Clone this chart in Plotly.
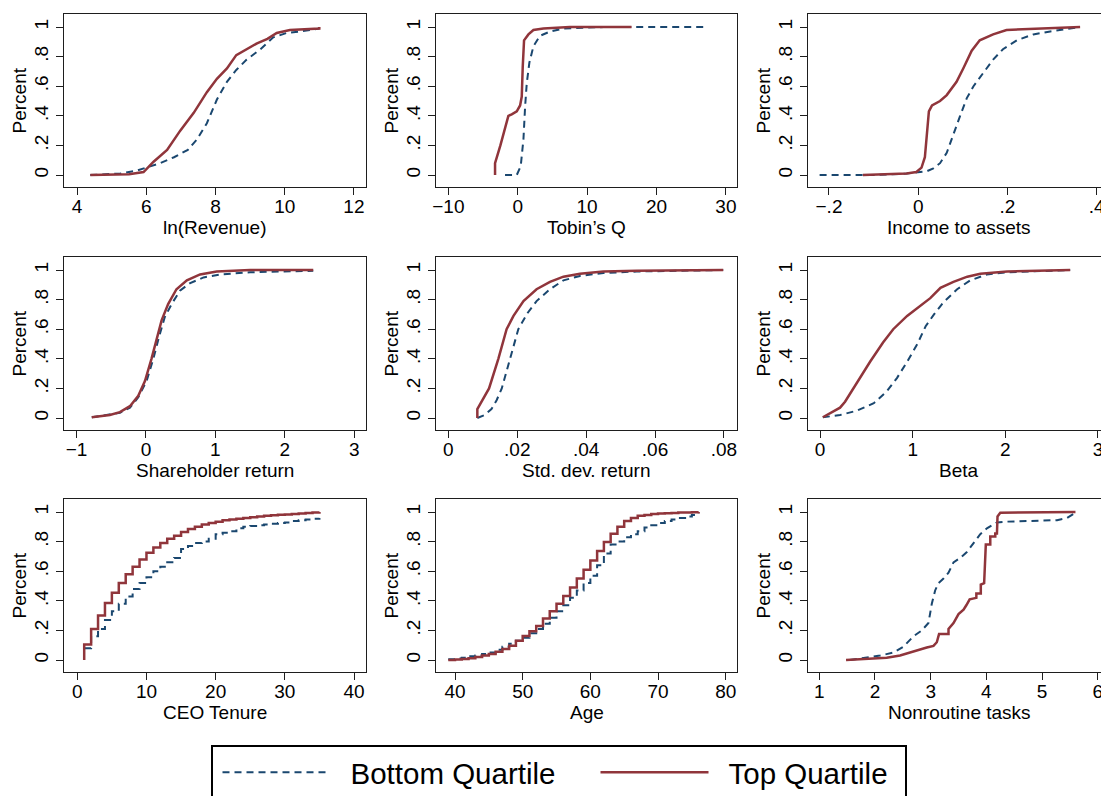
import plotly.graph_objects as go

# ---------------- data ----------------
# ln(Revenue)
rev_bot_x = [4.38, 5.25, 5.73, 6.0, 6.4, 6.8, 7.2, 7.46, 7.75, 8.04, 8.33, 8.6, 8.9, 9.3, 9.67, 10.06, 10.44, 11.0]
rev_bot_y = [0, 0.01, 0.03, 0.05, 0.08, 0.12, 0.17, 0.24, 0.35, 0.51, 0.63, 0.71, 0.78, 0.85, 0.93, 0.96, 0.97, 0.99]
rev_top_x = [4.38, 5.0, 5.5, 5.92, 6.21, 6.6, 6.98, 7.37, 7.75, 8.04, 8.33, 8.6, 8.9, 9.2, 9.5, 9.77, 10.15, 11.0, 11.0]
rev_top_y = [0, 0.0, 0.005, 0.02, 0.09, 0.17, 0.30, 0.42, 0.56, 0.65, 0.72, 0.81, 0.85, 0.89, 0.92, 0.96, 0.98, 0.99, 1.0]

# Tobin's Q
tq_bot_x = [-1.83, -0.14, 0.43, 0.82, 1.06, 1.3, 1.68, 2.26, 3.2, 4.66, 6.6, 12.4, 27.0]
tq_bot_y = [0, 0, 0.06, 0.24, 0.46, 0.62, 0.76, 0.87, 0.94, 0.97, 0.99, 1.0, 1.0]
tq_top_x = [-3.27, -3.27, -2.5, -1.8, -1.35, -0.87, -0.14, 0.34, 0.58, 0.72, 0.91, 1.54, 2.26, 3.7, 7.5, 16.4]
tq_top_y = [0, 0.08, 0.2, 0.33, 0.40, 0.41, 0.43, 0.47, 0.53, 0.73, 0.91, 0.95, 0.98, 0.99, 1.0, 1.0]

# Income to assets
ia_bot_x = [-0.221, -0.101, -0.026, 0.0, 0.019, 0.034, 0.049, 0.064, 0.079, 0.094, 0.109, 0.124, 0.146, 0.168, 0.19, 0.221, 0.258, 0.296, 0.363]
ia_bot_y = [0, 0, 0.01, 0.02, 0.025, 0.045, 0.08, 0.15, 0.28, 0.40, 0.52, 0.60, 0.69, 0.78, 0.85, 0.91, 0.95, 0.97, 1.0]
ia_top_x = [-0.124, -0.064, -0.026, -0.004, 0.0075, 0.015, 0.02, 0.024, 0.031, 0.049, 0.064, 0.086, 0.101, 0.12, 0.138, 0.168, 0.198, 0.273, 0.363]
ia_top_y = [0, 0.005, 0.01, 0.02, 0.05, 0.12, 0.30, 0.43, 0.47, 0.50, 0.54, 0.63, 0.72, 0.84, 0.91, 0.95, 0.98, 0.99, 1.0]

# Shareholder return
sr_bot_x = [-0.78, -0.375, -0.23, -0.11, 0.01, 0.106, 0.19, 0.27, 0.37, 0.49, 0.63, 0.83, 1.07, 1.5, 1.98, 2.41]
sr_bot_y = [0.005, 0.035, 0.07, 0.14, 0.25, 0.40, 0.55, 0.68, 0.77, 0.86, 0.91, 0.95, 0.97, 0.985, 0.99, 0.995]
sr_top_x = [-0.78, -0.52, -0.375, -0.23, -0.11, -0.014, 0.08, 0.155, 0.226, 0.32, 0.44, 0.59, 0.78, 1.02, 1.5, 2.41]
sr_top_y = [0.005, 0.02, 0.04, 0.08, 0.15, 0.25, 0.40, 0.53, 0.66, 0.77, 0.87, 0.93, 0.97, 0.99, 1.0, 1.0]

# Std. dev. return
sd_bot_x = [0.0084, 0.0105, 0.0125, 0.014, 0.0155, 0.0179, 0.0203, 0.023, 0.0256, 0.0295, 0.0334, 0.0382, 0.045, 0.0547, 0.0798]
sd_bot_y = [0, 0.02, 0.06, 0.12, 0.20, 0.40, 0.60, 0.71, 0.79, 0.87, 0.93, 0.96, 0.98, 0.99, 1.0]
sd_top_x = [0.0084, 0.0084, 0.0118, 0.0145, 0.0169, 0.0189, 0.0218, 0.0256, 0.0295, 0.0334, 0.0382, 0.045, 0.0547, 0.0798]
sd_top_y = [0, 0.06, 0.20, 0.40, 0.60, 0.69, 0.79, 0.87, 0.92, 0.955, 0.975, 0.99, 0.995, 1.0]

# Beta
b_bot_x = [0.03, 0.216, 0.4, 0.58, 0.72, 0.83, 0.94, 1.05, 1.14, 1.23, 1.33, 1.48, 1.62, 1.8, 2.02, 2.38, 2.7]
b_bot_y = [0.005, 0.02, 0.05, 0.10, 0.18, 0.27, 0.38, 0.50, 0.62, 0.70, 0.78, 0.87, 0.93, 0.97, 0.985, 0.995, 1.0]
b_top_x = [0.03, 0.216, 0.27, 0.4, 0.54, 0.68, 0.79, 0.94, 1.08, 1.19, 1.3, 1.44, 1.59, 1.73, 2.02, 2.7]
b_top_y = [0.005, 0.07, 0.11, 0.24, 0.38, 0.51, 0.60, 0.69, 0.76, 0.81, 0.88, 0.92, 0.955, 0.975, 0.99, 1.0]

# CEO Tenure (years 1..35, step CDF)
ceo_x = list(range(1, 36))
ceo_bot_y = [0.08, 0.16, 0.21, 0.27, 0.33, 0.38, 0.43, 0.48, 0.52, 0.56, 0.60, 0.63, 0.66, 0.69, 0.75,
             0.77, 0.79, 0.80, 0.82, 0.85, 0.86, 0.87, 0.89, 0.90, 0.905, 0.91, 0.915, 0.92, 0.925, 0.93,
             0.94, 0.945, 0.95, 0.955, 0.96]
ceo_top_y = [0.105, 0.21, 0.30, 0.385, 0.455, 0.52, 0.58, 0.63, 0.68, 0.725, 0.76, 0.79, 0.82, 0.84, 0.865,
             0.885, 0.90, 0.915, 0.925, 0.935, 0.945, 0.95, 0.955, 0.96, 0.965, 0.97, 0.975, 0.978, 0.981, 0.984,
             0.987, 0.99, 0.993, 0.996, 1.0]

# Age (39..76, step CDF)
age_x = list(range(39, 77))
age_bot_y = [0.005, 0.01, 0.015, 0.025, 0.03, 0.04, 0.05, 0.07, 0.09, 0.11, 0.13, 0.15, 0.18, 0.21, 0.245,
             0.285, 0.33, 0.37, 0.42, 0.47, 0.52, 0.57, 0.64, 0.72, 0.78, 0.80, 0.83, 0.85, 0.87, 0.895,
             0.91, 0.925, 0.94, 0.95, 0.96, 0.97, 0.98, 0.99]
age_top_y = [0.0, 0.003, 0.006, 0.012, 0.02, 0.03, 0.04, 0.055, 0.075, 0.097, 0.13, 0.163, 0.194, 0.23, 0.28,
             0.33, 0.38, 0.433, 0.49, 0.55, 0.61, 0.673, 0.736, 0.797, 0.853, 0.90, 0.94, 0.96, 0.975, 0.98,
             0.987, 0.99, 0.992, 0.994, 0.996, 0.997, 0.998, 1.0]

# Nonroutine tasks
nr_bot_x = [1.55, 1.85, 2.09, 2.33, 2.51, 2.69, 2.84, 2.96, 3.02, 3.08, 3.14, 3.23, 3.32, 3.41, 3.53, 3.65,
            3.77, 3.89, 4.01, 4.19, 4.37, 4.97, 5.27, 5.45, 5.6]
nr_bot_y = [0, 0.015, 0.03, 0.05, 0.09, 0.16, 0.20, 0.25, 0.38, 0.47, 0.52, 0.55, 0.59, 0.66, 0.69, 0.73,
            0.79, 0.85, 0.89, 0.93, 0.935, 0.945, 0.945, 0.96, 0.995]
nr_top_x = [1.48, 1.97, 2.21, 2.45, 2.57, 2.75, 2.93, 3.05, 3.11, 3.15, 3.32, 3.32, 3.41, 3.5, 3.59, 3.64,
            3.7, 3.82, 3.82, 3.9, 3.9, 3.96, 3.98, 3.99, 4.07, 4.07, 4.16, 4.16, 4.19, 4.2, 4.25, 5.6]
nr_top_y = [0, 0.01, 0.015, 0.03, 0.045, 0.065, 0.085, 0.095, 0.12, 0.175, 0.175, 0.21, 0.25, 0.31, 0.34, 0.37,
            0.41, 0.42, 0.45, 0.45, 0.51, 0.52, 0.65, 0.78, 0.78, 0.835, 0.835, 0.855, 0.855, 0.97, 0.995, 1.0]

panel_titles = ["ln(Revenue)", "Tobin\u2019s Q", "Income to assets",
                "Shareholder return", "Std. dev. return", "Beta",
                "CEO Tenure", "Age", "Nonroutine tasks"]
x_tickvals = [[4, 6, 8, 10, 12], [-10, 0, 10, 20, 30], [-0.2, 0, 0.2, 0.4],
              [-1, 0, 1, 2, 3], [0, 0.02, 0.04, 0.06, 0.08], [0, 1, 2, 3],
              [0, 10, 20, 30, 40], [40, 50, 60, 70, 80], [1, 2, 3, 4, 5, 6]]
x_ticktext = [["4", "6", "8", "10", "12"], ["\u221210", "0", "10", "20", "30"], ["\u2212.2", "0", ".2", ".4"],
              ["\u22121", "0", "1", "2", "3"], ["0", ".02", ".04", ".06", ".08"], ["0", "1", "2", "3"],
              ["0", "10", "20", "30", "40"], ["40", "50", "60", "70", "80"], ["1", "2", "3", "4", "5", "6"]]
x_ranges = [[3.62, 12.35], [-11.78, 31.6], [-0.247, 0.430],
            [-1.18, 3.17], [-0.0036, 0.0838], [-0.13, 3.13],
            [-1.92, 41.73], [37.19, 81.67], [0.797, 6.22]]
y_tickvals = [0, 0.2, 0.4, 0.6, 0.8, 1]
y_ticktext = ["0", ".2", ".4", ".6", ".8", "1"]

series = [
    (rev_bot_x, rev_bot_y, rev_top_x, rev_top_y, "linear"),
    (tq_bot_x, tq_bot_y, tq_top_x, tq_top_y, "linear"),
    (ia_bot_x, ia_bot_y, ia_top_x, ia_top_y, "linear"),
    (sr_bot_x, sr_bot_y, sr_top_x, sr_top_y, "linear"),
    (sd_bot_x, sd_bot_y, sd_top_x, sd_top_y, "linear"),
    (b_bot_x, b_bot_y, b_top_x, b_top_y, "linear"),
    (ceo_x, ceo_bot_y, [1] + ceo_x, [0] + ceo_top_y, "hv"),
    (age_x, age_bot_y, age_x, age_top_y, "hv"),
    (nr_bot_x, nr_bot_y, nr_top_x, nr_top_y, "linear"),
]

# ---------------- layout ----------------
W, H = 1115, 796
cols_px = [(64, 366), (436, 737), (808, 1110)]
rows_px = [(14, 187), (257, 430), (499, 672)]
BLUE = "#1a476f"
RED = "#90353b"
FONT = "Liberation Sans, Arial, sans-serif"
FRAME = "#1e1e1e"

fig = go.Figure()
annotations = []
layout_axes = {}
for i in range(9):
    r, c = divmod(i, 3)
    n = "" if i == 0 else str(i + 1)
    bx, by, tx, ty, shape = series[i]
    fig.add_trace(go.Scatter(x=bx, y=by, mode="lines", name="Bottom Quartile",
                             line=dict(color=BLUE, width=2, dash="7px,5px", shape=shape),
                             xaxis="x" + n, yaxis="y" + n, showlegend=(i == 0), hoverinfo="skip"))
    fig.add_trace(go.Scatter(x=tx, y=ty, mode="lines", name="Top Quartile",
                             line=dict(color=RED, width=2.5, shape=shape),
                             xaxis="x" + n, yaxis="y" + n, showlegend=(i == 0), hoverinfo="skip"))
    x0, x1 = cols_px[c]
    y0, y1 = rows_px[r]
    common = dict(showline=True, mirror=True, linecolor=FRAME, linewidth=1.3,
                  ticks="outside", ticklen=7, tickwidth=1.3, tickcolor=FRAME,
                  showgrid=False, zeroline=False,
                  tickfont=dict(family=FONT, size=19, color="black"))
    layout_axes["xaxis" + n] = dict(domain=[x0 / W, x1 / W], range=x_ranges[i],
                                    tickvals=x_tickvals[i], ticktext=x_ticktext[i],
                                    ticklabelstandoff=-5, anchor="y" + n, **common)
    layout_axes["yaxis" + n] = dict(domain=[1 - y1 / H, 1 - y0 / H], range=[-0.081, 1.088],
                                    tickvals=y_tickvals, ticktext=y_ticktext, tickangle=-90,
                                    anchor="x" + n, **common)
    annotations.append(dict(text=panel_titles[i], xref="x" + n + " domain", yref="y" + n + " domain",
                            x=0.5, y=0, yshift=-40, xanchor="center", yanchor="middle", showarrow=False,
                            font=dict(family=FONT, size=19, color="black")))
    annotations.append(dict(text="Percent", xref="x" + n + " domain", yref="y" + n + " domain",
                            x=0, y=0.5, xshift=-45, xanchor="center", yanchor="middle", textangle=-90,
                            showarrow=False, font=dict(family=FONT, size=19, color="black")))

fig.update_layout(
    width=W, height=H, margin=dict(l=0, r=0, t=0, b=0, autoexpand=False),
    paper_bgcolor="white", plot_bgcolor="white",
    annotations=annotations,
    legend=dict(orientation="h", x=211 / W, y=1 - 745 / H, xanchor="left", yanchor="top",
                bordercolor="black", borderwidth=1.5, bgcolor="white",
                font=dict(family=FONT, size=29.5, color="black"),
                itemwidth=128, entrywidth=235, entrywidthmode="pixels"),
    **layout_axes,
)

post = """
document.body.style.margin='0';
document.body.style.overflow='hidden';
var lg = document.querySelector('g.legend');
if (lg) {
  lg.querySelectorAll('g.legendlines path').forEach(function(p){p.setAttribute('d','M10,0h108');});
  var bg = lg.querySelector('rect.bg');
  if (bg) { bg.setAttribute('width', '694'); bg.setAttribute('height', '70'); }
}
"""
fig.write_html("out.html", post_script=post, config={"displayModeBar": False})
